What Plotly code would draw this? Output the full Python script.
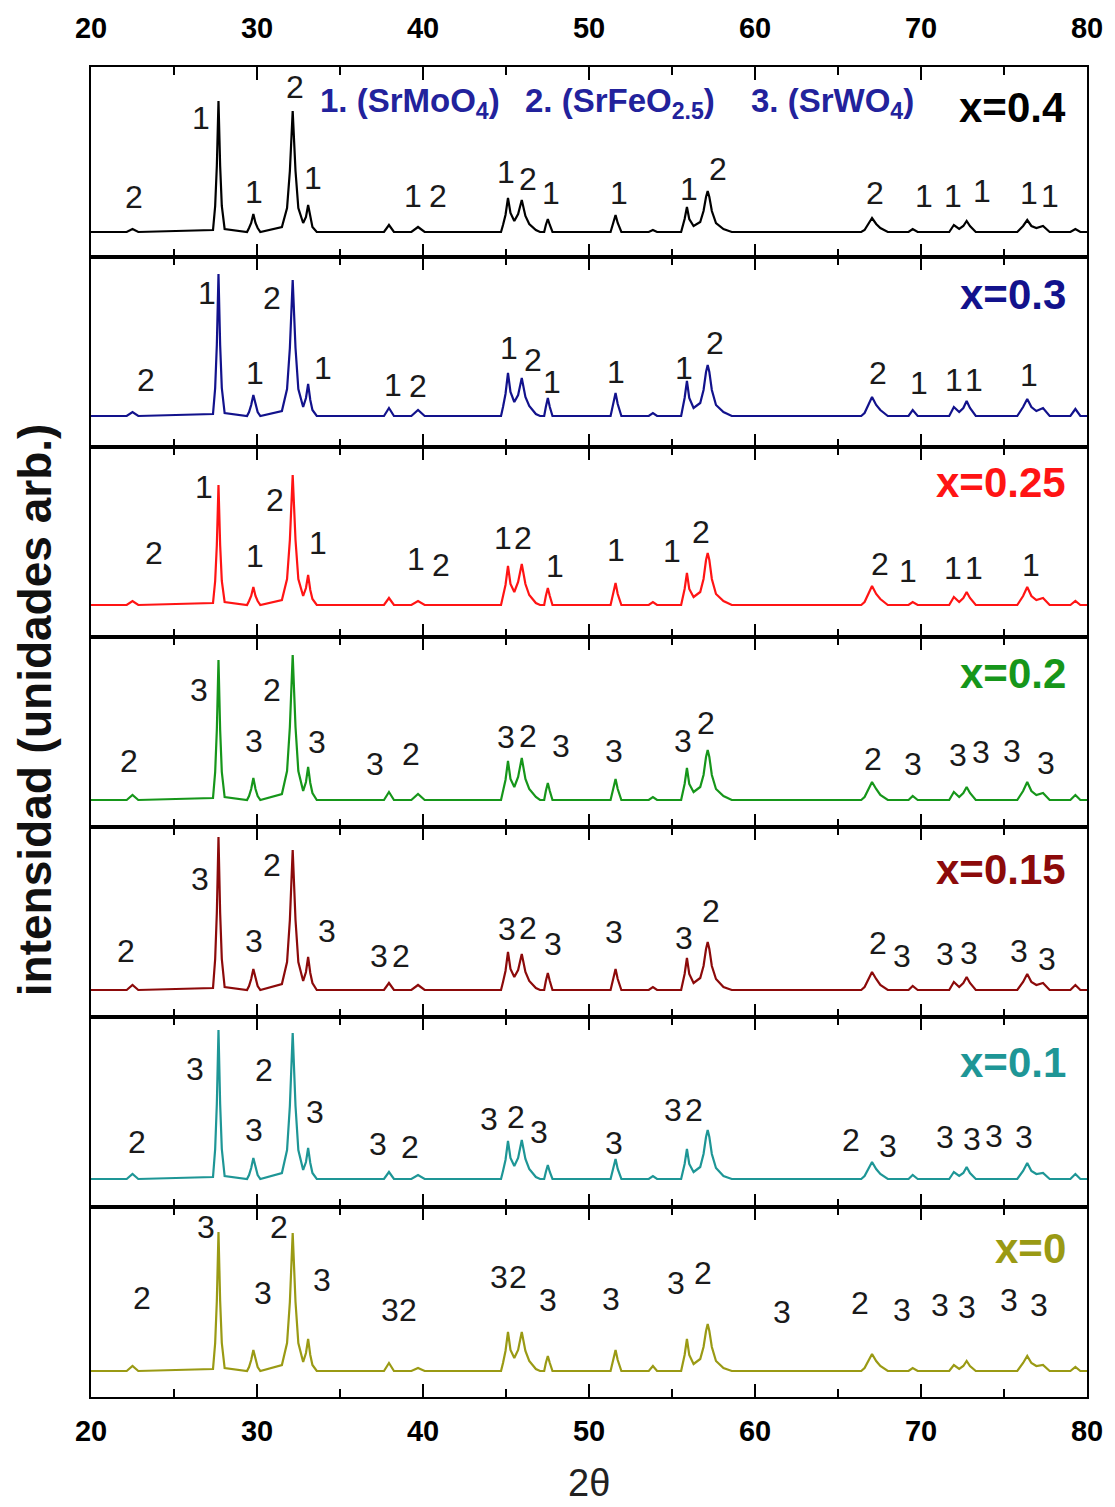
import plotly.graph_objects as go

# 2-theta positions of the pattern vertices (degrees)
TWO_THETA = [
    20.0,
    22.15, 22.5, 22.85,
    27.35, 27.48, 27.58, 27.68, 27.78, 27.88, 28.05,
    29.4, 29.52, 29.65, 29.78, 29.91, 30.04, 30.2,
    31.5, 31.81, 31.98, 32.15, 32.32, 32.49, 32.78, 32.95, 33.08, 33.21, 33.34, 33.6,
    37.65, 37.95, 38.25,
    39.3, 39.7, 40.1,
    44.7, 44.82, 44.97, 45.12, 45.27, 45.5, 45.73, 45.95, 46.17, 46.4, 46.8, 47.05,
    47.3, 47.4, 47.52, 47.64, 47.8,
    51.3, 51.47, 51.6, 51.73, 51.95,
    53.6, 53.85, 54.1,
    55.55, 55.76, 55.9, 56.04, 56.3, 56.7, 56.9, 57.05, 57.15, 57.25, 57.4, 57.65, 58.1, 58.6,
    66.4, 66.6, 66.8, 67.05, 67.3, 67.55, 68.0,
    69.25, 69.5, 69.8,
    71.7, 71.98, 72.3, 72.55, 72.75, 72.95, 73.3,
    75.8, 76.15, 76.4, 76.65, 76.95, 77.35, 77.75,
    79.0, 79.3, 79.6, 80.0,
]

SAMPLES = ["x=0.4", "x=0.3", "x=0.25", "x=0.2", "x=0.15", "x=0.1", "x=0"]

# background level of each pattern (a.u.)
BACKGROUND = [25, 31, 32, 27, 27, 28, 26]

# intensity above background at each TWO_THETA vertex (a.u.)
INT_X040 = [0,
            0, 3, 0,
            2, 26, 66, 131, 66, 26, 3,
            0, 4, 9, 18, 9, 4, 0,
            5, 24, 61, 121, 61, 24, 9, 15, 27, 14, 5, 0,
            0, 7, 0,
            0, 5, 0,
            0, 7, 17, 34, 19, 11, 18, 32, 16, 8, 2, 0,
            0, 7, 13, 7, 0,
            0, 9, 17, 9, 0,
            0, 2, 0,
            0, 13, 25, 13, 6, 10, 21, 35, 41, 35, 21, 9, 3, 0,
            0, 2, 7, 14, 8, 4, 0,
            0, 3, 0,
            0, 7, 3, 6, 11, 6, 0,
            0, 6, 12, 6, 4, 6, 0,
            0, 3, 0, 0]
INT_X030 = [0,
            0, 4, 0,
            2, 28, 71, 142, 71, 28, 3,
            0, 4, 11, 21, 11, 4, 0,
            5, 27, 68, 136, 68, 27, 9, 18, 32, 16, 6, 0,
            0, 8, 0,
            0, 6, 0,
            0, 9, 22, 43, 24, 14, 21, 38, 19, 10, 2, 0,
            0, 9, 18, 9, 0,
            0, 12, 23, 12, 0,
            0, 3, 0,
            0, 18, 35, 18, 8, 13, 26, 44, 51, 44, 26, 11, 4, 0,
            0, 3, 10, 19, 11, 6, 0,
            0, 6, 0,
            0, 9, 4, 8, 15, 8, 0,
            0, 9, 17, 9, 5, 8, 0,
            0, 7, 0, 0]
INT_X025 = [0,
            0, 4, 0,
            2, 24, 60, 120, 60, 24, 3,
            0, 4, 9, 18, 9, 4, 0,
            5, 26, 65, 130, 65, 26, 9, 17, 30, 15, 6, 0,
            0, 7, 0,
            0, 4, 0,
            0, 8, 20, 39, 21, 13, 23, 41, 21, 10, 2, 0,
            0, 9, 17, 9, 0,
            0, 11, 22, 11, 0,
            0, 3, 0,
            0, 16, 32, 16, 8, 13, 26, 45, 52, 45, 26, 11, 4, 0,
            0, 3, 10, 19, 11, 6, 0,
            0, 3, 0,
            0, 8, 3, 7, 13, 7, 0,
            0, 9, 18, 9, 5, 7, 0,
            0, 4, 0, 0]
INT_X020 = [0,
            0, 5, 0,
            2, 28, 70, 140, 70, 28, 3,
            0, 4, 11, 22, 11, 4, 0,
            6, 29, 73, 145, 73, 29, 9, 18, 33, 17, 7, 0,
            0, 8, 0,
            0, 6, 0,
            0, 8, 20, 39, 21, 13, 23, 42, 21, 11, 3, 0,
            0, 9, 17, 9, 0,
            0, 11, 21, 11, 0,
            0, 3, 0,
            0, 16, 32, 16, 8, 13, 25, 43, 50, 43, 25, 11, 4, 0,
            0, 3, 9, 18, 11, 5, 0,
            0, 4, 0,
            0, 8, 3, 7, 13, 7, 0,
            0, 9, 18, 9, 5, 7, 0,
            0, 5, 0, 0]
INT_X015 = [0,
            0, 5, 0,
            2, 31, 77, 153, 77, 31, 3,
            0, 4, 11, 21, 11, 4, 0,
            6, 28, 70, 140, 70, 28, 9, 18, 33, 17, 7, 0,
            0, 7, 0,
            0, 5, 0,
            0, 8, 19, 38, 21, 13, 20, 36, 18, 9, 2, 0,
            0, 9, 17, 9, 0,
            0, 11, 21, 11, 0,
            0, 3, 0,
            0, 16, 32, 16, 7, 12, 24, 41, 48, 41, 24, 11, 3, 0,
            0, 3, 9, 18, 11, 5, 0,
            0, 4, 0,
            0, 8, 3, 7, 13, 7, 0,
            0, 8, 16, 8, 5, 7, 0,
            0, 5, 0, 0]
INT_X010 = [0,
            0, 5, 0,
            2, 30, 75, 149, 75, 30, 3,
            0, 4, 11, 21, 11, 4, 0,
            6, 29, 73, 146, 73, 29, 9, 17, 31, 16, 6, 0,
            0, 7, 0,
            0, 4, 0,
            0, 8, 19, 38, 21, 13, 21, 39, 20, 10, 2, 0,
            0, 7, 14, 7, 0,
            0, 10, 20, 10, 0,
            0, 3, 0,
            0, 15, 30, 15, 7, 12, 25, 42, 49, 42, 25, 11, 3, 0,
            0, 3, 9, 17, 10, 5, 0,
            0, 4, 0,
            0, 7, 3, 6, 12, 6, 0,
            0, 8, 16, 8, 5, 6, 0,
            0, 5, 0, 0]
INT_X000 = [0,
            0, 5, 0,
            2, 28, 70, 139, 70, 28, 3,
            0, 4, 11, 21, 11, 4, 0,
            6, 28, 69, 138, 69, 28, 9, 18, 32, 16, 6, 0,
            0, 8, 0,
            0, 3, 0,
            0, 8, 20, 39, 21, 13, 21, 39, 20, 10, 2, 0,
            0, 8, 15, 8, 0,
            0, 11, 21, 11, 0,
            0, 5, 0,
            0, 16, 32, 16, 7, 12, 24, 40, 47, 40, 24, 10, 3, 0,
            0, 3, 9, 17, 10, 5, 0,
            0, 3, 0,
            0, 6, 2, 5, 10, 5, 0,
            0, 8, 15, 8, 5, 6, 0,
            0, 4, 0, 0]

INTENSITIES = [INT_X040, INT_X030, INT_X025, INT_X020, INT_X015, INT_X010, INT_X000]

# phase index marks: 1 SrMoO4, 2 SrFeO2.5, 3 SrWO4
PHASE_MARKS = [
    "2112112121112211111",
    "211211212111221111",
    "211211212111221111",
    "2332332323332233333",
    "2332332323332233333",
    "2332332323332233333",
    "23323323233323233333",
]
PHASE_NAMES = ["1. (SrMoO<sub>4</sub>)", "2. (SrFeO<sub>2.5</sub>)", "3. (SrWO<sub>4</sub>)"]

TICKS = [20, 30, 40, 50, 60, 70, 80]

# ---- styling / placement -------------------------------------------------
COLORS = ["#000000", "#12128c", "#ff1414", "#16961a", "#8c0a0a", "#1e9696", "#9a9a14"]
FONT = "Liberation Sans, Arial, sans-serif"

# (2-theta, height) centre of each phase mark, per panel
MARK_XY = [
    [(22.6, 60), (26.6, 139), (29.8, 65), (32.3, 170), (33.4, 79), (39.4, 61), (40.9, 61),
     (45.0, 85), (46.3, 78), (47.7, 64), (51.8, 64), (56.0, 68), (57.8, 88), (67.2, 64),
     (70.2, 61), (71.9, 61), (73.7, 66), (76.5, 64), (77.8, 61)],
    [(23.3, 67), (27.0, 154), (29.9, 74), (30.9, 149), (34.0, 79), (38.2, 62), (39.7, 61),
     (45.2, 99), (46.6, 87), (47.8, 65), (51.6, 75), (55.7, 79), (57.6, 104), (67.4, 74),
     (69.9, 64), (72.0, 67), (73.2, 67), (76.5, 72)],
    [(23.8, 84), (26.8, 150), (29.9, 81), (31.1, 137), (33.7, 94), (39.6, 78), (41.1, 72),
     (44.8, 99), (46.0, 99), (47.95, 71), (51.65, 87), (55.0, 86), (56.75, 105), (67.5, 73),
     (69.2, 66), (71.9, 69), (73.2, 69), (76.6, 72)],
    [(22.3, 66), (26.5, 137), (29.8, 86), (30.9, 137), (33.6, 85), (37.1, 63), (39.3, 73),
     (45.0, 90), (46.3, 91), (48.3, 81), (51.5, 76), (55.65, 86), (57.05, 104), (67.1, 68),
     (69.5, 63), (72.2, 72), (73.6, 75), (75.5, 76), (77.5, 64)],
    [(22.1, 66), (26.55, 138), (29.8, 76), (30.9, 152), (34.2, 86), (37.35, 61), (38.65, 61),
     (45.05, 88), (46.3, 89), (47.85, 73), (51.5, 85), (55.7, 79), (57.35, 106), (67.4, 74),
     (68.85, 61), (71.45, 63), (72.9, 64), (75.9, 66), (77.6, 58)],
    [(22.75, 65), (26.25, 138), (29.8, 77), (30.4, 137), (33.5, 95), (37.3, 63), (39.2, 60),
     (44.0, 88), (45.6, 90), (47.0, 75), (51.5, 64), (55.05, 97), (56.3, 97), (65.8, 67),
     (68.0, 61), (71.45, 70), (73.1, 68), (74.4, 71), (76.2, 70)],
    [(23.1, 99), (26.9, 170), (30.35, 104), (31.3, 170), (33.9, 117), (38.0, 87), (39.1, 87),
     (44.55, 120), (45.75, 120), (47.5, 97), (51.3, 98), (55.25, 114), (56.85, 124), (61.6, 85),
     (66.35, 94), (68.85, 87), (71.15, 92), (72.75, 90), (75.3, 97), (77.1, 92)],
]
SAMPLE_LABEL_Y = [150, 152, 155, 154, 148, 145, 149]
LEGEND_X = [33.7, 46.0, 59.65]

N = len(SAMPLES)
fig = go.Figure()
annotations = []

for i in range(N):
    sfx = "" if i == 0 else str(i + 1)
    y_vals = [BACKGROUND[i] + v for v in INTENSITIES[i]]
    fig.add_trace(go.Scatter(
        x=TWO_THETA, y=y_vals, mode="lines",
        line=dict(color=COLORS[i], width=2.2),
        xaxis="x" + sfx, yaxis="y" + sfx, showlegend=False, hoverinfo="skip",
    ))

    top = 1 - i / N
    bottom = 1 - (i + 1) / N
    fig.update_layout(**{
        "xaxis" + sfx: dict(
            range=[20, 80], anchor="y" + sfx, domain=[0, 1],
            side="top" if i == 0 else "bottom",
            showticklabels=(i == 0 or i == N - 1),
            tickvals=TICKS, ticks="inside", ticklen=13, tickwidth=2, tickcolor="black",
            minor=dict(ticks="inside", ticklen=8, tickwidth=2, dtick=5, tick0=20, tickcolor="black"),
            showline=True, linecolor="black", linewidth=2, mirror="ticks",
            showgrid=False, zeroline=False,
            tickfont=dict(family=FONT, size=29, color="black", weight="bold"),
            ticklabelstandoff=15 if i == 0 else 7,
            **({} if i == 0 else {"matches": "x"}),
        ),
        "yaxis" + sfx: dict(
            range=[0, 190], domain=[bottom, top], anchor="x" + sfx,
            showline=True, linecolor="black", linewidth=2, mirror=True,
            ticks="", showticklabels=False, showgrid=False, zeroline=False,
        ),
    })

    # sample composition label
    annotations.append(dict(
        x=78.85, y=SAMPLE_LABEL_Y[i], xref="x" + sfx, yref="y" + sfx,
        text="<b>%s</b>" % SAMPLES[i], showarrow=False, xanchor="right", yanchor="middle",
        font=dict(family=FONT, size=42, color=COLORS[i]),
    ))

    # phase index above each reflection
    for mark, (mx, my) in zip(PHASE_MARKS[i], MARK_XY[i]):
        annotations.append(dict(
            x=mx, y=my, xref="x" + sfx, yref="y" + sfx, text=mark, showarrow=False,
            xanchor="center", yanchor="middle",
            font=dict(family=FONT, size=32, color="#1a1a1a"),
        ))

# phase key in the top panel
for name, lx in zip(PHASE_NAMES, LEGEND_X):
    annotations.append(dict(
        x=lx, y=154, xref="x", yref="y", text="<b>%s</b>" % name, showarrow=False,
        xanchor="left", yanchor="middle",
        font=dict(family=FONT, size=33, color="#22229c"),
    ))

# axis titles
annotations.append(dict(
    x=50, y=-0.0645, xref="x7", yref="paper", text="2θ", showarrow=False,
    xanchor="center", yanchor="middle", font=dict(family=FONT, size=38, color="#222222"),
))
annotations.append(dict(
    x=-0.0561, y=0.5165, xref="paper", yref="paper", text="<b>intensidad (unidades arb.)</b>",
    showarrow=False, textangle=-90, xanchor="center", yanchor="middle",
    font=dict(family=FONT, size=46, color="#111111"),
))

fig.update_layout(
    width=1115, height=1507,
    margin=dict(l=91, r=26, t=67, b=110),
    paper_bgcolor="white", plot_bgcolor="white",
    annotations=annotations,
    showlegend=False,
)

fig.write_html("out.html")
